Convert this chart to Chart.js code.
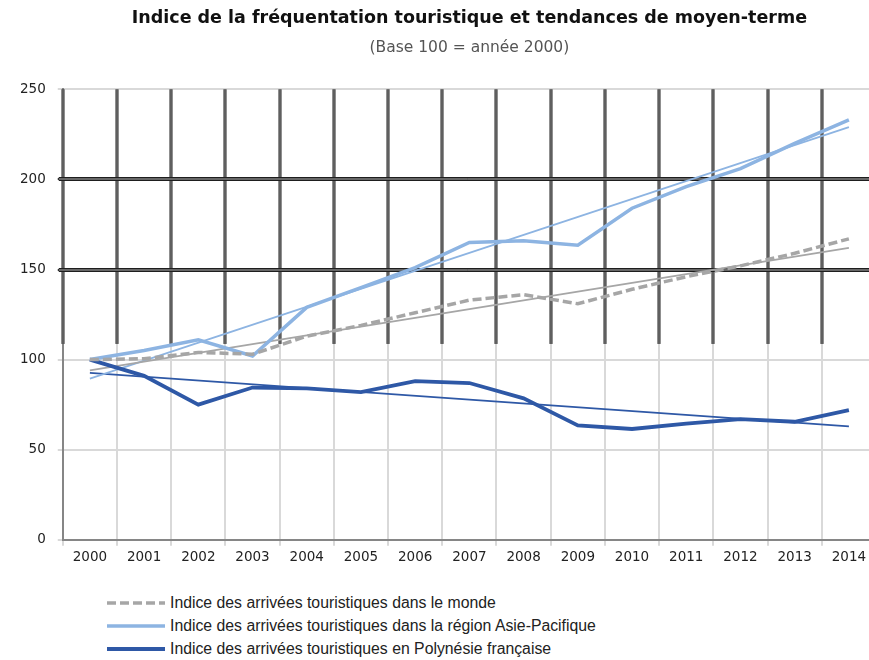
<!DOCTYPE html>
<html>
<head>
<meta charset="utf-8">
<script src="https://cdn.jsdelivr.net/npm/chart.js@4.4.0/dist/chart.umd.min.js"></script>
<style>
  body { margin: 0; background: #fff; width: 869px; height: 660px; overflow: hidden; position: relative; }
  #wrap { position: absolute; left: 0; top: 0; width: 876px; height: 574px; }
  #legend { position: absolute; left: 107px; top: 591px; font: 15.8px "Liberation Sans", Arial, sans-serif; color: #222; }
  .row { height: 23px; display: flex; align-items: center; white-space: nowrap; }
  .row svg { margin-right: 5px; }
</style>
</head>
<body>
<div id="wrap"><canvas id="chart"></canvas></div>
<div id="legend"></div>
<script>
// valeurs (base 100 = 2000)
const years = ['2000','2001','2002','2003','2004','2005','2006','2007','2008','2009','2010','2011','2012','2013','2014'];
const monde = [100, 100.5, 104, 103, 113, 119, 126, 133, 136, 131, 139, 146, 152, 159, 167];
const asiePacifique = [100, 105, 111, 102, 129, 140, 151, 165, 166, 163.5, 184, 196, 206, 220, 233];
const polynesie = [100, 91, 75, 84.5, 84, 82, 88, 87, 78.5, 63.5, 61.5, 64.5, 67, 65.5, 72];
// tendances : seulement les extrémités, la droite est tracée entre les deux
const tendanceMonde = [94, null, null, null, null, null, null, null, null, null, null, null, null, null, 162];
const tendanceAsie = [89.5, null, null, null, null, null, null, null, null, null, null, null, null, null, 229];
const tendancePolynesie = [92.6, null, null, null, null, null, null, null, null, null, null, null, null, null, 63];
const yTicks = [0, 50, 100, 150, 200, 250];

const seriesNames = [
  'Indice des arrivées touristiques dans le monde',
  'Indice des arrivées touristiques dans la région Asie-Pacifique',
  'Indice des arrivées touristiques en Polynésie française'
];

const GREY = '#a6a6a6', LIGHT = '#8db4e2', DARK = '#2e58a6';
const darkZoneFrom = 108.7; // zone du haut aux traits noirs

const darkGrid = {
  id: 'darkGrid',
  beforeDatasetsDraw(chart) {
    const { ctx, chartArea, scales: { x, y } } = chart;
    const top = y.getPixelForValue(250);
    const cut = y.getPixelForValue(darkZoneFrom);
    const half = (x.getPixelForValue(1) - x.getPixelForValue(0)) / 2;
    ctx.save();
    // traits verticaux
    for (let i = 0; i < years.length; i++) {
      const px = Math.round(x.getPixelForValue(i) - half);
      ctx.strokeStyle = '#1e1e1e';
      ctx.lineWidth = 3;
      ctx.beginPath(); ctx.moveTo(px, top); ctx.lineTo(px, cut); ctx.stroke();
      ctx.strokeStyle = '#a0a0a0';
      ctx.lineWidth = 1;
      ctx.beginPath(); ctx.moveTo(px, top); ctx.lineTo(px, cut); ctx.stroke();
    }
    // traits horizontaux 150 et 200
    [150, 200].forEach(v => {
      const py = Math.round(y.getPixelForValue(v));
      ctx.strokeStyle = '#1e1e1e';
      ctx.lineWidth = 4;
      ctx.beginPath(); ctx.moveTo(chartArea.left - 4, py); ctx.lineTo(chartArea.right, py); ctx.stroke();
      ctx.strokeStyle = '#b0b0b0';
      ctx.lineWidth = 1;
      ctx.beginPath(); ctx.moveTo(chartArea.left - 4, py); ctx.lineTo(chartArea.right, py); ctx.stroke();
    });
    ctx.restore();
  }
};

const datasets = [
  { label: seriesNames[0], data: monde, borderColor: GREY, borderWidth: 3.5, borderDash: [9, 4], legend: true },
  { label: seriesNames[1], data: asiePacifique, borderColor: LIGHT, borderWidth: 3.5, legend: true },
  { label: seriesNames[2], data: polynesie, borderColor: DARK, borderWidth: 3.8, legend: true },
  { label: 'tendance monde', data: tendanceMonde, borderColor: GREY, borderWidth: 1.8, spanGaps: true },
  { label: 'tendance Asie', data: tendanceAsie, borderColor: LIGHT, borderWidth: 1.8, spanGaps: true },
  { label: 'tendance Polynésie', data: tendancePolynesie, borderColor: DARK, borderWidth: 1.8, spanGaps: true }
];
datasets.forEach(d => { d.pointRadius = 0; d.fill = false; d.tension = 0; });

new Chart(document.getElementById('chart'), {
  type: 'line',
  data: { labels: years, datasets: datasets },
  plugins: [darkGrid],
  options: {
    responsive: true,
    maintainAspectRatio: false,
    animation: false,
    devicePixelRatio: 1,
    layout: { padding: { left: 8, right: 0, bottom: 4, top: 0 } },
    plugins: {
      legend: { display: false },
      tooltip: { enabled: false },
      title: {
        display: true,
        fullSize: false,
        text: 'Indice de la fréquentation touristique et tendances de moyen-terme',
        color: '#111',
        font: { family: 'DejaVu Sans', size: 17.5, weight: 'bold' },
        padding: { top: 8, bottom: 8 }
      },
      subtitle: {
        display: true,
        fullSize: false,
        text: '(Base 100 = année 2000)',
        color: '#555',
        font: { family: 'DejaVu Sans', size: 15.5 },
        padding: { top: 2, bottom: 31.7 }
      }
    },
    scales: {
      x: {
        offset: true,
        grid: { offset: true, color: '#d9d9d9', lineWidth: 2, tickLength: 6 },
        border: { color: '#868686', width: 2 },
        ticks: { color: '#222', font: { family: 'DejaVu Sans', size: 13.5 }, padding: 4, maxRotation: 0 }
      },
      y: {
        min: 0, max: 250,
        afterBuildTicks: s => { s.ticks = yTicks.map(v => ({ value: v })); },
        grid: {
          color: c => (c.tick && (c.tick.value === 150 || c.tick.value === 200)) ? '#1e1e1e' : '#d9d9d9',
          lineWidth: 2, tickLength: 5
        },
        border: { color: '#868686', width: 2 },
        ticks: { color: '#222', font: { family: 'DejaVu Sans', size: 13.5 }, padding: 12 }
      }
    }
  }
});

// légende
const legend = document.getElementById('legend');
datasets.filter(d => d.legend).forEach(d => {
  const row = document.createElement('div');
  row.className = 'row';
  const dash = d.borderDash ? `stroke-dasharray="${d.borderDash.join(' ')}"` : '';
  row.innerHTML = `<svg width="58" height="8"><line x1="0" y1="4" x2="58" y2="4" stroke="${d.borderColor}" stroke-width="${d.borderWidth}" ${dash}/></svg><span>${d.label}</span>`;
  legend.appendChild(row);
});
</script>
</body>
</html>
